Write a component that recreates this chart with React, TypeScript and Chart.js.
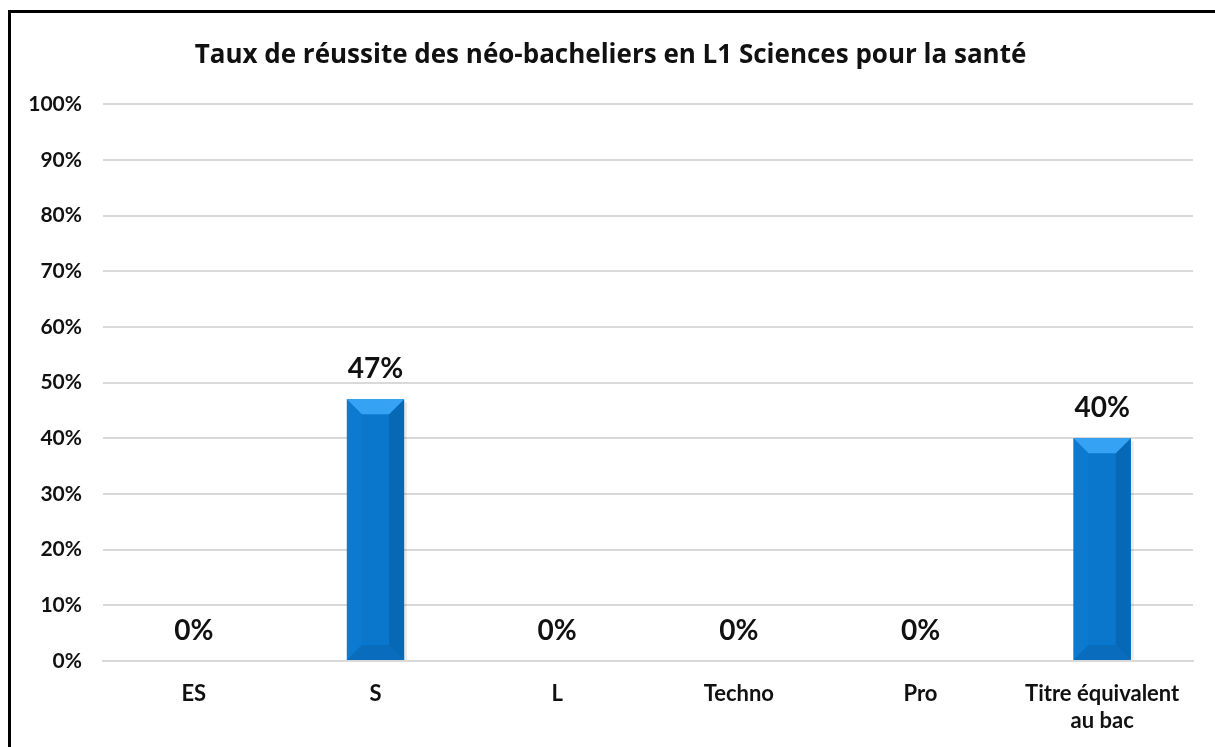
import React, { useEffect, useRef } from "react";
import { Chart, registerables } from "chart.js";

Chart.register(...registerables);

const categories: (string | string[])[] = ["ES", "S", "L", "Techno", "Pro", ["Titre équivalent", "au bac"]];
const values: number[] = [0, 47, 0, 0, 0, 40];
const yTicks: number[] = [0, 10, 20, 30, 40, 50, 60, 70, 80, 90, 100];
const titleText = "Taux de réussite des néo-bacheliers en L1 Sciences pour la santé";

const FONT = "Lato, 'Open Sans', sans-serif";
const TITLE_FONT = "'Open Sans', Lato, sans-serif";

const bevelPlugin = {
  id: "bevel",
  afterDatasetsDraw(chart: any) {
    const ctx = chart.ctx;
    const meta = chart.getDatasetMeta(0);
    meta.data.forEach((bar: any, i: number) => {
      const v = values[i];
      const x = bar.x;
      const w = bar.width;
      const top = bar.y;
      const base = bar.base;
      const l = x - w / 2;
      const r = x + w / 2;
      const h = base - top;
      if (h > 1) {
        const b = Math.min(15, w / 3.7, h / 2);
        ctx.save();
        ctx.fillStyle = "rgba(0,0,0,0.08)";
        ctx.fillRect(r, top + 3, 3, h - 3);
        ctx.fillStyle = "#0B7AD0";
        ctx.beginPath();
        ctx.moveTo(l, top); ctx.lineTo(l + b, top + b); ctx.lineTo(l + b, base - b); ctx.lineTo(l, base); ctx.closePath(); ctx.fill();
        ctx.fillStyle = "#0768B6";
        ctx.beginPath();
        ctx.moveTo(r, top); ctx.lineTo(r - b, top + b); ctx.lineTo(r - b, base - b); ctx.lineTo(r, base); ctx.closePath(); ctx.fill();
        ctx.fillStyle = "#35A2F4";
        ctx.beginPath();
        ctx.moveTo(l, top); ctx.lineTo(r, top); ctx.lineTo(r - b, top + b); ctx.lineTo(l + b, top + b); ctx.closePath(); ctx.fill();
        ctx.fillStyle = "#096CBD";
        ctx.beginPath();
        ctx.moveTo(l, base); ctx.lineTo(r, base); ctx.lineTo(r - b, base - b); ctx.lineTo(l + b, base - b); ctx.closePath(); ctx.fill();
        ctx.restore();
      }
      ctx.save();
      ctx.fillStyle = "#111";
      ctx.font = `bold 28px ${FONT}`;
      ctx.textAlign = "center";
      ctx.textBaseline = "middle";
      ctx.fillText(v + "%", x, top - 30);
      ctx.restore();
    });
  },
};

export default function App() {
  const ref = useRef<HTMLCanvasElement>(null);
  useEffect(() => {
    if (!ref.current) return;
    const chart = new Chart(ref.current, {
      type: "bar",
      data: {
        labels: categories,
        datasets: [
          {
            data: values,
            backgroundColor: "#0A77CC",
            barPercentage: 0.63,
            categoryPercentage: 0.5,
          },
        ],
      },
      options: {
        responsive: false,
        animation: false,
        layout: { padding: { left: 28, right: 22, top: 0, bottom: 0 } },
        plugins: {
          legend: { display: false },
          tooltip: { enabled: false },
          title: {
            display: true,
            text: titleText,
            color: "#111",
            font: { family: TITLE_FONT, size: 26, weight: "bold" },
            padding: { top: 40, bottom: 33 },
          },
        },
        scales: {
          x: {
            grid: { display: false },
            border: { display: true, color: "#d9d9d9", width: 2 },
            ticks: {
              color: "#111",
              font: { family: FONT, size: 22, weight: "bold" },
              padding: 12,
              maxRotation: 0,
              autoSkip: false,
            },
            afterFit: (s: any) => { s.height = 86; },
          },
          y: {
            min: 0,
            max: 100,
            afterBuildTicks: (s: any) => { s.ticks = yTicks.map((v) => ({ value: v })); },
            grid: { color: "#d9d9d9", lineWidth: 2, drawTicks: false },
            border: { display: false },
            ticks: {
              color: "#111",
              font: { family: FONT, size: 21, weight: "bold" },
              padding: 21,
              callback: (v: any) => v + "%",
            },
            afterFit: (s: any) => { s.width = 75; },
          },
        },
      },
      plugins: [bevelPlugin],
    });
    return () => chart.destroy();
  }, []);
  return (
    <div style={{ position: "fixed", left: 0, top: 0, width: 1215, height: 747, overflow: "hidden", background: "#fff" }}>
      <div style={{ position: "absolute", left: 8, top: 10, width: 1230, height: 780, border: "3px solid #000", boxSizing: "border-box" }} />
      <canvas ref={ref} width={1215} height={747} style={{ position: "absolute", left: 0, top: 0 }} />
    </div>
  );
}
